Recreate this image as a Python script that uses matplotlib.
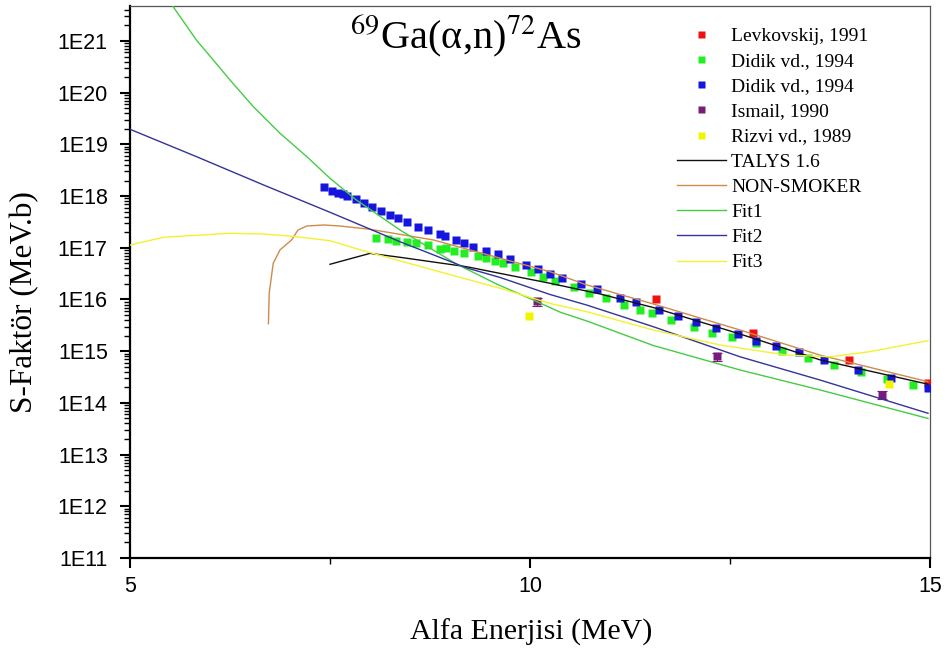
import matplotlib
matplotlib.use("Agg")
import matplotlib.pyplot as plt
from matplotlib.ticker import LogLocator, FixedLocator, NullFormatter

# ---- experimental data: alpha energy (MeV), S-factor (MeV.b) ----
levkovskij_E = [11.58, 12.79, 13.99, 14.98]
levkovskij_S = [1.04e16, 2.22e15, 6.8e14, 2.4e14]

didik_green_E = [8.08, 8.22, 8.33, 8.46, 8.58, 8.73, 8.88, 8.95, 9.05, 9.18,
                 9.35, 9.45, 9.56, 9.66, 9.81, 10.01, 10.16, 10.31, 10.55, 10.74,
                 10.95, 11.18, 11.38, 11.52, 11.76, 12.05, 12.28, 12.52, 12.82, 13.15,
                 13.48, 13.80, 14.14, 14.46, 14.79]
didik_green_S = [1.57e17, 1.46e17, 1.37e17, 1.28e17, 1.22e17, 1.12e17, 9.6e16, 9.8e16, 8.8e16, 8.0e16,
                 7.0e16, 6.35e16, 5.6e16, 5.15e16, 4.3e16, 3.36e16, 2.76e16, 2.28e16, 1.72e16, 1.35e16,
                 1.07e16, 7.7e15, 6.3e15, 5.4e15, 4.1e15, 3.0e15, 2.28e15, 1.86e15, 1.42e15, 1.01e15,
                 7.3e14, 5.5e14, 4.0e14, 2.94e14, 2.22e14]

didik_blue_E = [7.42, 7.53, 7.60, 7.66, 7.71, 7.82, 7.93, 8.03, 8.14, 8.25,
                8.35, 8.46, 8.60, 8.72, 8.87, 8.94, 9.08, 9.18, 9.29, 9.45,
                9.60, 9.75, 9.95, 10.10, 10.25, 10.40, 10.64, 10.84, 11.13, 11.32,
                11.61, 11.85, 12.08, 12.33, 12.60, 12.83, 13.08, 13.36, 13.68, 14.10,
                14.51, 14.98]
didik_blue_S = [1.52e18, 1.26e18, 1.16e18, 1.10e18, 1.02e18, 8.7e17, 7.3e17, 6.1e17, 5.1e17, 4.4e17,
                3.7e17, 3.2e17, 2.56e17, 2.24e17, 1.82e17, 1.71e17, 1.40e17, 1.22e17, 1.05e17, 8.8e16,
                7.5e16, 6.0e16, 4.65e16, 3.84e16, 3.11e16, 2.61e16, 1.97e16, 1.57e16, 1.08e16, 8.95e15,
                6.2e15, 4.8e15, 3.67e15, 2.85e15, 2.12e15, 1.60e15, 1.28e15, 9.5e14, 6.8e14, 4.4e14,
                3.0e14, 1.97e14]

ismail_E = [10.09, 12.34, 14.40]
ismail_S = [9.2e15, 8.0e14, 1.42e14]
ismail_err = [1.6e15, 1.4e14, 2.5e13]

rizvi_E = [9.99, 14.49]
rizvi_S = [4.8e15, 2.32e14]

# ---- theoretical curves and fits ----
talys_E = [7.5, 8.0, 8.375, 9.21, 9.625, 10.25, 10.875, 11.54, 12.625, 13.625, 14.975]
talys_S = [4.8e16, 7.8e16, 6.55e16, 4.3e16, 3.2e16, 2.06e16, 1.28e16, 7.0e15, 2.15e15, 6.8e14, 2.3e14]

nonsmoker_E = [6.73, 6.74, 6.79, 6.875, 7.02, 7.10, 7.21, 7.42, 7.625, 8.0,
               8.79, 9.625, 10.25, 10.71, 11.54, 12.625, 13.625, 14.975]
nonsmoker_S = [3.4e15, 1.32e16, 5.0e16, 9.1e16, 1.42e17, 2.21e17, 2.64e17, 2.76e17, 2.64e17, 2.28e17,
               1.42e17, 6.3e16, 3.45e16, 1.91e16, 8.2e15, 2.57e15, 8.4e14, 2.57e14]

fit1_E = [5.50, 5.54, 5.83, 6.04, 6.25, 6.54, 6.875, 7.21, 7.5, 7.83, 8.375,
          9.08, 9.58, 10.04, 10.375, 10.71, 11.54, 12.625, 13.625, 14.975]
fit1_S = [5.7e21, 4.6e21, 1.04e21, 4.3e20, 1.76e20, 5.4e19, 1.64e19, 5.8e18, 2.21e18, 8.4e17, 2.21e17,
          4.86e16, 2.0e16, 9.8e15, 5.7e15, 3.84e15, 1.29e15, 4.33e14, 1.78e14, 5.0e13]

fit2_E = [5.0, 5.83, 6.67, 7.5, 8.375, 9.21, 9.625, 10.25, 10.71, 11.54, 12.625, 13.625, 14.975]
fit2_S = [1.96e19, 5.8e18, 1.64e18, 4.86e17, 1.31e17, 4.07e16, 2.67e16, 1.25e16, 7.8e15, 2.98e15,
          7.8e14, 2.77e14, 6.3e13]

fit3_E = [5.0, 5.42, 6.25, 6.67, 7.08, 7.5, 7.96, 8.79, 9.625, 10.25,
          10.71, 11.54, 12.375, 13.21, 13.75, 14.25, 14.975]
fit3_S = [1.13e17, 1.60e17, 1.91e17, 1.85e17, 1.64e17, 1.37e17, 8.4e16, 3.72e16, 1.65e16, 8.4e15,
          5.8e15, 2.57e15, 1.32e15, 8.4e14, 7.8e14, 9.8e14, 1.60e15]

y_ticks = [1e11, 1e12, 1e13, 1e14, 1e15, 1e16, 1e17, 1e18, 1e19, 1e20, 1e21]
y_tick_labels = ["1E11", "1E12", "1E13", "1E14", "1E15", "1E16", "1E17", "1E18", "1E19", "1E20", "1E21"]
x_ticks = [5, 10, 15]

plt.rcParams["mathtext.fontset"] = "stix"
SERIF = "Liberation Serif"
SANS = "Liberation Sans"

W, H = 949, 655
fig = plt.figure(figsize=(W / 100, H / 100), dpi=100)
ax = fig.add_axes([130 / W, (H - 558) / H, 800 / W, 552 / H])

ax.set_yscale("log")
ax.set_xlim(5, 15)
ax.set_ylim(1e11, 4.75e21)

ms = 5.6
h_lev, = ax.plot(levkovskij_E, levkovskij_S, "s", color="#ee1111", ms=ms, mec="none", zorder=3)
h_dg, = ax.plot(didik_green_E, didik_green_S, "s", color="#22ee22", ms=ms, mec="none", zorder=3)
h_db, = ax.plot(didik_blue_E, didik_blue_S, "s", color="#1515dd", ms=ms, mec="none", zorder=3)
ax.errorbar(ismail_E, ismail_S, yerr=ismail_err, fmt="none", ecolor="#7a1a7a",
            elinewidth=0.8, capsize=3.5, capthick=0.8, zorder=3)
h_ism, = ax.plot(ismail_E, ismail_S, "s", color="#7a1a7a", ms=ms, mec="none", zorder=3)
h_riz, = ax.plot(rizvi_E, rizvi_S, "s", color="#f4f400", ms=ms, mec="none", zorder=3)

lw = 1.0
h_tal, = ax.plot(talys_E, talys_S, color="#111111", lw=lw, zorder=4)
h_non, = ax.plot(nonsmoker_E, nonsmoker_S, color="#d08a4a", lw=lw, zorder=4)
h_f1, = ax.plot(fit1_E, fit1_S, color="#44cc44", lw=lw, zorder=4)
h_f2, = ax.plot(fit2_E, fit2_S, color="#333399", lw=lw, zorder=4)
h_f3, = ax.plot(fit3_E, fit3_S, color="#f2f230", lw=lw, zorder=4)

# axes frame: heavy left/bottom, thin top/right
for side in ("left", "bottom"):
    ax.spines[side].set_linewidth(1.6)
    ax.spines[side].set_color("black")
for side in ("top", "right"):
    ax.spines[side].set_linewidth(0.9)
    ax.spines[side].set_color("#555555")

ax.xaxis.set_major_locator(FixedLocator(x_ticks))
ax.xaxis.set_minor_locator(FixedLocator([7.5, 12.5]))
ax.set_xticklabels([str(v) for v in x_ticks], fontfamily=SANS, fontsize=15.5)
ax.yaxis.set_major_locator(FixedLocator(y_ticks))
ax.yaxis.set_minor_locator(LogLocator(base=10, subs=range(2, 10), numticks=30))
ax.yaxis.set_minor_formatter(NullFormatter())
ax.set_yticklabels(y_tick_labels, fontfamily=SANS, fontsize=15.5)
ax.tick_params(axis="both", which="major", direction="out", length=7, width=1.5,
               top=False, right=False)
ax.tick_params(axis="y", which="major", pad=9)
ax.tick_params(axis="x", which="major", pad=6)
ax.tick_params(axis="both", which="minor", direction="out", length=4, width=1.0,
               top=False, right=False)

fig.text(531 / W, 1 - 632 / H, "Alfa Enerjisi (MeV)", family=SERIF, fontsize=21.5,
         ha="center", va="center")
fig.text(25 / W, 1 - 302 / H, "S-Faktör (MeV.b)", family=SERIF, fontsize=22.5,
         ha="center", va="center", rotation=90)
fig.text(466 / W, 1 - 48 / H, r"$^{69}$Ga(α,n)$^{72}$As", family=SERIF,
         fontsize=29, ha="center", va="baseline")

handles = [h_lev, h_dg, h_db, h_ism, h_riz, h_tal, h_non, h_f1, h_f2, h_f3]
labels = ["Levkovskij, 1991", "Didik vd., 1994", "Didik vd., 1994", "Ismail, 1990",
          "Rizvi vd., 1989", "TALYS 1.6", "NON-SMOKER", "Fit1", "Fit2", "Fit3"]
leg = fig.legend(handles, labels, loc="upper left", bbox_to_anchor=(677 / W, 1 - 27 / H),
                 frameon=False, prop={"family": SERIF, "size": 14}, handlelength=2.5,
                 handletextpad=0.3, labelspacing=0.39, borderpad=0, borderaxespad=0,
                 markerscale=0.9)

fig.savefig("out.png", dpi=100)
